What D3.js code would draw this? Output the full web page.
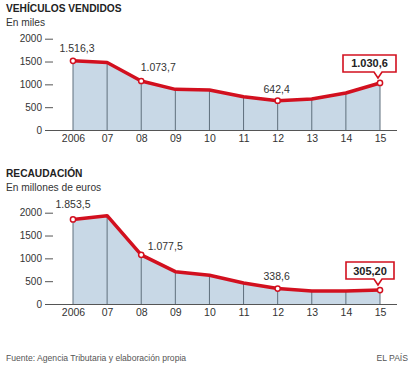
<!DOCTYPE html>
<html><head><meta charset="utf-8">
<script src="https://cdn.jsdelivr.net/npm/d3@7"></script>
<style>
body{margin:0;background:#fff;}
svg{display:block;font-family:"Liberation Sans",Arial,sans-serif;}
</style></head>
<body><svg id="c" width="414" height="366"></svg>
<script>
const years = ["2006","07","08","09","10","11","12","13","14","15"];
const vehiculos = [1516.3, 1478, 1073.7, 890, 876, 730, 642.4, 680, 810, 1030.6];
const recaudacion = [1853.5, 1934, 1077.5, 708, 630, 460, 338.6, 285, 283, 305.2];
const yTicks = [0, 500, 1000, 1500, 2000];
const labels1 = [{i:0,text:"1.516,3",dx:4,dy:-12},{i:2,text:"1.073,7",dx:17,dy:-14},{i:6,text:"642,4",dx:-1,dy:-11}];
const labels2 = [{i:0,text:"1.853,5",dx:0,dy:-15},{i:2,text:"1.077,5",dx:24,dy:-8},{i:6,text:"338,6",dx:-1,dy:-12}];

const svg = d3.select("#c");
const red = "#d2101f";
const x = d3.scalePoint().domain(years).range([73, 380]);

function chart(title, subtitle, values, labels, callout, top, base){
  const g = svg.append("g");
  g.append("text").attr("x",6).attr("y",top).attr("font-size",10.2).attr("font-weight","bold").attr("fill","#222").text(title);
  g.append("text").attr("x",6).attr("y",top+14).attr("font-size",10.2).attr("fill","#333").text(subtitle);
  const y = d3.scaleLinear().domain([0,2000]).range([base, base-91.3]);
  const curve = d3.curveLinear;
  const pts = values.map((v,i)=>[x(years[i]), y(v)]);
  g.append("path").attr("d", d3.area().x(d=>d[0]).y0(base).y1(d=>d[1]).curve(curve)(pts)).attr("fill","#c8d8e6");
  g.selectAll("line.v").data(values).join("line").attr("class","v")
    .attr("x1",(d,i)=>x(years[i])).attr("x2",(d,i)=>x(years[i]))
    .attr("y1",base).attr("y2",d=>y(d)).attr("stroke","#5f6f7c").attr("stroke-width",1);
  g.append("line").attr("x1",53).attr("x2",397).attr("y1",base+0.5).attr("y2",base+0.5).attr("stroke","#555").attr("stroke-width",1);
  const ya = g.append("g").attr("transform","translate(53,0)").call(d3.axisLeft(y).tickValues(yTicks).tickFormat(d3.format("d")).tickSize(8).tickPadding(3));
  ya.select(".domain").remove();
  ya.selectAll("line").attr("stroke","#555");
  ya.selectAll("text").attr("font-size",10).attr("fill","#333").attr("font-family","Liberation Sans, Arial, sans-serif");
  const xa = g.append("g").attr("transform",`translate(0,${base})`).call(d3.axisBottom(x).tickSize(0).tickPadding(5));
  xa.select(".domain").remove();
  xa.selectAll("text").attr("font-size",10.5).attr("fill","#333").attr("font-family","Liberation Sans, Arial, sans-serif");
  g.append("path").attr("d", d3.line().curve(curve)(pts)).attr("fill","none").attr("stroke",red).attr("stroke-width",3.5).attr("stroke-linejoin","round");
  const marked = labels.map(l=>l.i).concat([callout.i]);
  g.selectAll("circle").data(marked).join("circle")
    .attr("cx",i=>pts[i][0]).attr("cy",i=>pts[i][1]).attr("r",2.6)
    .attr("fill","#fff").attr("stroke",red).attr("stroke-width",1.5);
  g.selectAll("text.lab").data(labels).join("text").attr("class","lab")
    .attr("x",d=>pts[d.i][0]+d.dx).attr("y",d=>pts[d.i][1]+d.dy).attr("dy","0.35em")
    .attr("text-anchor","middle").attr("font-size",10.5).attr("fill","#333").text(d=>d.text);
  const px = pts[callout.i][0]-2, py = pts[callout.i][1];
  const bx0 = px + callout.bx0, bx1 = px + callout.bx1, by1 = py - 11, by0 = by1 - 17;
  const p = d3.path();
  p.moveTo(bx0,by0); p.lineTo(bx1,by0); p.lineTo(bx1,by1); p.lineTo(px+4,by1); p.lineTo(px,by1+6); p.lineTo(px-4,by1); p.lineTo(bx0,by1); p.closePath();
  g.append("path").attr("d",p.toString()).attr("fill","#fff").attr("stroke",red).attr("stroke-width",1.6);
  g.append("text").attr("x",(bx0+bx1)/2).attr("y",(by0+by1)/2).attr("dy","0.36em").attr("text-anchor","middle")
    .attr("font-size",11).attr("font-weight","bold").attr("fill","#222").text(callout.text);
}

chart("VEHÍCULOS VENDIDOS","En miles",vehiculos,labels1,{i:9,text:"1.030,6",bx0:-35,bx1:18},12,130);
chart("RECAUDACIÓN","En millones de euros",recaudacion,labels2,{i:9,text:"305,20",bx0:-32,bx1:16},177,304);

svg.append("text").attr("x",6).attr("y",361).attr("font-size",8.6).attr("fill","#555").text("Fuente: Agencia Tributaria y elaboración propia");
svg.append("text").attr("x",408).attr("y",361).attr("text-anchor","end").attr("font-size",8.6).attr("fill","#555").text("EL PAÍS");
</script></body></html>
